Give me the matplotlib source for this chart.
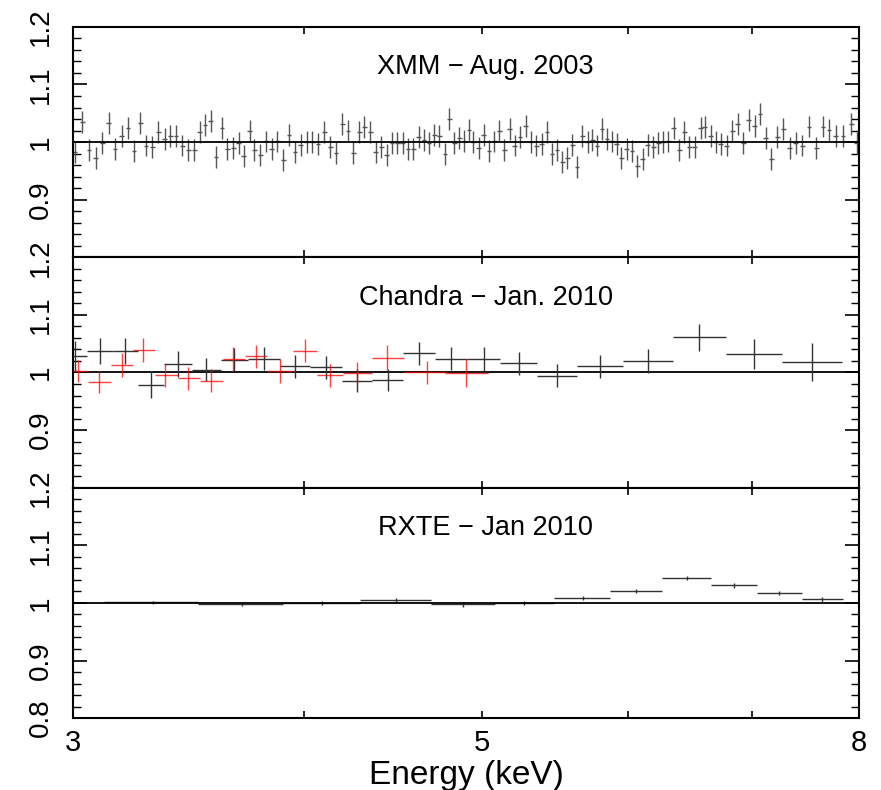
import numpy as np
import matplotlib.pyplot as plt
from matplotlib.ticker import FixedLocator, MultipleLocator, NullFormatter, FuncFormatter

plt.rcParams['font.family'] = ['Liberation Sans Narrow', 'Liberation Sans', 'DejaVu Sans']

# XMM - Aug. 2003 : data/model ratio
xmm_e = [3.007, 3.035, 3.060, 3.086, 3.112, 3.137, 3.161, 3.188, 3.213, 3.237,
         3.263, 3.286, 3.311, 3.337, 3.364, 3.387, 3.411, 3.438, 3.464, 3.489,
         3.514, 3.537, 3.562, 3.586, 3.613, 3.637, 3.663, 3.689, 3.712, 3.740,
         3.762, 3.790, 3.818, 3.844, 3.871, 3.900, 3.928, 3.957, 3.986, 4.016,
         4.043, 4.072, 4.105, 4.136, 4.165, 4.197, 4.228, 4.256, 4.287, 4.315,
         4.347, 4.377, 4.407, 4.437, 4.467, 4.496, 4.527, 4.557, 4.587, 4.618,
         4.649, 4.678, 4.709, 4.738, 4.772, 4.798, 4.828, 4.858, 4.887, 4.917,
         4.944, 4.977, 5.008, 5.041, 5.075, 5.107, 5.139, 5.173, 5.206, 5.240,
         5.278, 5.313, 5.348, 5.384, 5.420, 5.454, 5.488, 5.524, 5.559, 5.594,
         5.627, 5.664, 5.702, 5.735, 5.769, 5.805, 5.841, 5.877, 5.912, 5.946,
         5.986, 6.026, 6.066, 6.107, 6.147, 6.188, 6.227, 6.266, 6.305, 6.350,
         6.392, 6.432, 6.472, 6.518, 6.565, 6.600, 6.647, 6.689, 6.731, 6.782,
         6.829, 6.875, 6.923, 6.972, 7.025, 7.071, 7.122, 7.172, 7.223, 7.280,
         7.338, 7.393, 7.455, 7.516, 7.586, 7.649, 7.707, 7.771, 7.843, 7.925,
         7.978]
xmm_r = [0.983, 1.035, 0.987, 0.973, 0.998, 1.033, 0.988, 1.011, 1.024, 0.985,
         1.033, 0.994, 0.991, 1.017, 1.005, 1.011, 1.011, 0.994, 0.987, 0.987,
         1.017, 1.030, 1.037, 0.974, 1.024, 0.988, 0.990, 0.999, 0.976, 1.020,
         0.987, 0.978, 1.001, 0.988, 1.001, 0.969, 1.013, 0.983, 0.995, 1.000,
         1.000, 0.997, 1.017, 0.991, 0.981, 1.031, 1.020, 0.981, 1.017, 1.026,
         1.018, 0.983, 0.991, 0.978, 0.999, 0.999, 0.998, 0.988, 0.988, 1.009,
         1.003, 0.999, 1.013, 1.011, 0.980, 1.040, 0.998, 1.007, 1.002, 1.021,
         1.000, 0.990, 1.013, 0.985, 1.001, 1.020, 0.987, 1.023, 0.994, 1.009,
         1.028, 1.000, 0.994, 0.997, 1.018, 0.980, 0.987, 0.966, 0.972, 0.995,
         0.956, 1.010, 1.000, 1.003, 0.994, 1.023, 1.006, 1.001, 0.997, 0.973,
         0.988, 0.984, 0.959, 0.971, 0.995, 0.991, 0.999, 1.000, 1.001, 1.024,
         0.987, 1.018, 0.992, 0.991, 1.024, 1.026, 1.010, 1.000, 0.997, 0.994,
         1.020, 1.031, 0.999, 1.039, 1.028, 1.048, 1.007, 0.971, 1.009, 1.023,
         0.990, 0.999, 0.994, 1.027, 0.990, 1.027, 1.021, 1.010, 1.010, 1.031,
         0.998]
xmm_err = 0.019

# Chandra - Jan. 2010, black spectrum
chb_lo = [3.000, 3.052, 3.155, 3.254, 3.361, 3.480, 3.608, 3.732, 3.884, 4.032, 4.197,
          4.356, 4.528, 4.712, 4.904, 5.114, 5.351, 5.625, 5.957, 6.341, 6.774, 7.265]
chb_hi = [3.052, 3.155, 3.254, 3.361, 3.480, 3.608, 3.732, 3.884, 4.032, 4.197, 4.356,
          4.528, 4.712, 4.904, 5.114, 5.351, 5.625, 5.957, 6.341, 6.774, 7.265, 7.834]
chb_e = [3.008, 3.103, 3.201, 3.307, 3.419, 3.540, 3.667, 3.807, 3.958, 4.112, 4.274,
         4.444, 4.619, 4.807, 5.009, 5.233, 5.486, 5.794, 6.146, 6.550, 7.015, 7.549]
chb_r = [1.029, 1.037, 1.037, 0.979, 1.015, 1.005, 1.022, 1.024, 1.011, 1.009, 0.986,
         0.987, 1.033, 1.024, 1.023, 1.016, 0.994, 1.011, 1.020, 1.061, 1.032, 1.018]
chb_err = [0.026, 0.023, 0.023, 0.023, 0.022, 0.020, 0.020, 0.020, 0.020, 0.020, 0.020,
           0.019, 0.020, 0.020, 0.021, 0.020, 0.020, 0.020, 0.021, 0.023, 0.026, 0.033]

# Chandra - Jan. 2010, red spectrum
chr_lo = [3.000, 3.057, 3.146, 3.233, 3.323, 3.420, 3.515, 3.616,
          3.718, 3.822, 3.948, 4.068, 4.202, 4.356, 4.534, 4.771]
chr_hi = [3.057, 3.146, 3.233, 3.323, 3.420, 3.515, 3.616, 3.718,
          3.822, 3.948, 4.068, 4.202, 4.356, 4.534, 4.771, 5.034]
chr_e = [3.018, 3.100, 3.188, 3.274, 3.365, 3.464, 3.562, 3.664,
         3.769, 3.884, 4.007, 4.134, 4.274, 4.440, 4.664, 4.898]
chr_r = [1.002, 0.983, 1.013, 1.039, 0.995, 0.990, 0.986, 1.023,
         1.028, 1.003, 1.038, 0.995, 0.999, 1.026, 1.000, 0.999]
chr_err = [0.019, 0.019, 0.020, 0.021, 0.020, 0.020, 0.020, 0.021,
           0.020, 0.021, 0.020, 0.020, 0.019, 0.021, 0.020, 0.024]

# RXTE - Jan 2010
rx_lo = [3.116, 3.508, 3.900, 4.292, 4.687, 5.078, 5.466, 5.862, 6.254, 6.654, 7.044, 7.447]
rx_hi = [3.508, 3.900, 4.292, 4.687, 5.078, 5.466, 5.862, 6.254, 6.654, 7.044, 7.447, 7.843]
rx_e = [3.314, 3.704, 4.095, 4.487, 4.878, 5.267, 5.670, 6.060, 6.455, 6.845, 7.240, 7.640]
rx_r = [1.001, 0.998, 1.000, 1.0046, 0.9977, 1.000, 1.0087, 1.0209, 1.0435, 1.0307, 1.0174, 1.0064]
rx_err = [0.003, 0.003, 0.003, 0.004, 0.004, 0.004, 0.004, 0.004, 0.004, 0.004, 0.004, 0.004]

titles = ['XMM \u2212 Aug. 2003', 'Chandra \u2212 Jan. 2010', 'RXTE \u2212 Jan 2010']


def xerr(e, lo, hi):
    e = np.array(e)
    return [e - np.array(lo), np.array(hi) - e]


fig, axes = plt.subplots(3, 1, figsize=(8.81, 7.90), dpi=100, sharex=True)
fig.subplots_adjust(left=0.083, right=0.975, top=0.966, bottom=0.091, hspace=0)

ax = axes[0]
e = np.array(xmm_e)
ax.errorbar(e, xmm_r, yerr=xmm_err, xerr=0.003 * e, fmt='none',
            ecolor='#555555', elinewidth=1.0, capsize=0)

ax = axes[1]
ax.errorbar(chb_e, chb_r, yerr=chb_err, xerr=xerr(chb_e, chb_lo, chb_hi), fmt='none',
            ecolor='#333333', elinewidth=1.0, capsize=0, zorder=3)
ax.errorbar(chr_e, chr_r, yerr=chr_err, xerr=xerr(chr_e, chr_lo, chr_hi), fmt='none',
            ecolor='red', elinewidth=1.0, capsize=0, alpha=0.75, zorder=3)

ax = axes[2]
ax.errorbar(rx_e, rx_r, yerr=rx_err, xerr=xerr(rx_e, rx_lo, rx_hi), fmt='none',
            ecolor='#333333', elinewidth=1.0, capsize=0)

for i, ax in enumerate(axes):
    ax.axhline(1.0, color='black', lw=1.3, zorder=2)
    ax.set_xscale('log')
    ax.set_xlim(3, 8)
    ax.set_ylim(0.8, 1.2)
    ax.xaxis.set_major_locator(FixedLocator([3, 5, 8]))
    ax.xaxis.set_minor_locator(FixedLocator([4, 6, 7]))
    ax.xaxis.set_major_formatter(FuncFormatter(lambda v, p: '%g' % v))
    ax.xaxis.set_minor_formatter(NullFormatter())
    ax.yaxis.set_major_locator(MultipleLocator(0.1))
    ax.yaxis.set_minor_locator(MultipleLocator(0.02))
    if i < 2:
        ax.yaxis.set_major_formatter(FuncFormatter(lambda v, p: '' if v < 0.85 else '%g' % round(v, 2)))
    else:
        ax.yaxis.set_major_formatter(FuncFormatter(lambda v, p: '%g' % round(v, 2)))
    ax.tick_params(which='both', direction='in', top=True, right=True)
    ax.tick_params(axis='x', which='both', length=5, width=1.2, labelsize=21, pad=8)
    ax.tick_params(axis='y', which='major', length=10, width=1.2, labelsize=20,
                   labelrotation=90, pad=14)
    ax.tick_params(axis='y', which='minor', length=5.5, width=1.0)
    for lab in ax.get_yticklabels():
        lab.set_va('center')
    for s in ax.spines.values():
        s.set_linewidth(1.5)
    ax.text(5.02, 1.13, titles[i], ha='center', va='center', fontsize=19.5,
            family=['Liberation Sans', 'DejaVu Sans'])

axes[2].set_xlabel('Energy (keV)', fontsize=24, labelpad=2)

fig.savefig('out.png', dpi=100)
